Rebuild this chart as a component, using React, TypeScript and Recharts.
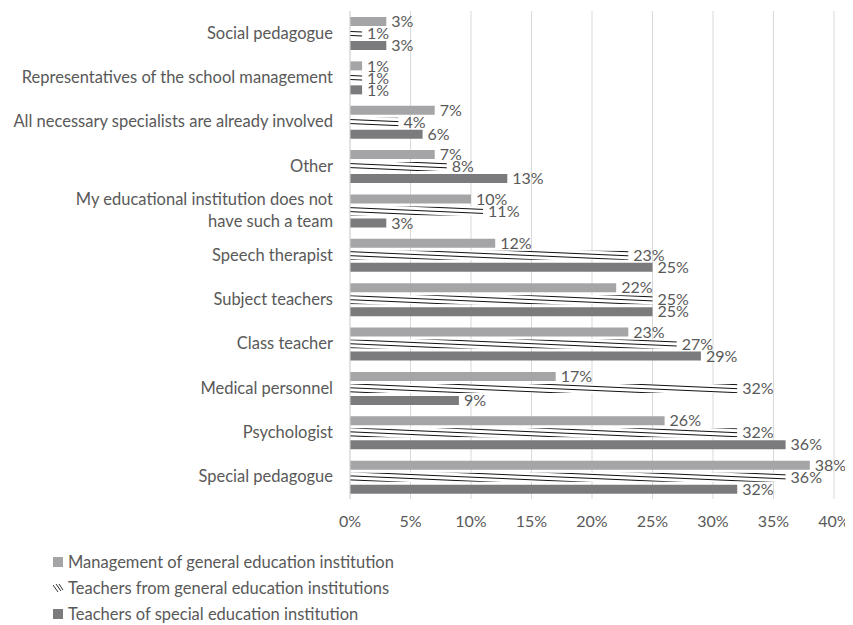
import React from 'react';
import {
	Bar,
	BarChart,
	CartesianGrid,
	LabelList,
	Legend,
	XAxis,
	YAxis
} from 'recharts';

const categories = [
	'Social pedagogue',
	'Representatives of the school management',
	'All necessary specialists are already involved',
	'Other',
	'My educational institution does not\nhave such a team',
	'Speech therapist',
	'Subject teachers',
	'Class teacher',
	'Medical personnel',
	'Psychologist',
	'Special pedagogue'
];

const management = [3, 1, 7, 7, 10, 12, 22, 23, 17, 26, 38];
const teachersGeneral = [1, 1, 4, 8, 11, 23, 25, 27, 32, 32, 36];
const teachersSpecial = [3, 1, 6, 13, 3, 25, 25, 29, 9, 36, 32];

const xTicks = [0, 5, 10, 15, 20, 25, 30, 35, 40];

const seriesNames = [
	'Management of general education institution',
	'Teachers from general education institutions',
	'Teachers of special education institution'
];

const data = categories.map((name, i) => ({
	name,
	management: management[i],
	teachersGeneral: teachersGeneral[i],
	teachersSpecial: teachersSpecial[i]
}));

const FONT = 'Lato, "Open Sans", sans-serif';
const TEXT = '#595959';

const CategoryTick = ({ x, y, payload }: any) => {
	const lines = String(payload.value).split('\n');
	const lh = 22;
	return (
		<text x={x} y={y} textAnchor="end" fill={TEXT} fontSize={16.5} fontFamily={FONT}>
			{lines.map((l, i) => (
				<tspan key={i} x={x} dy={i === 0 ? -((lines.length - 1) * lh) / 2 + 5.5 : lh}>
					{l}
				</tspan>
			))}
		</text>
	);
};

const LegendContent = () => (
	<div style={{ height: 86, paddingTop: 10, paddingLeft: 45, fontFamily: FONT, fontSize: 16.5, color: TEXT, boxSizing: 'border-box' }}>
		{seriesNames.map((n, i) => (
			<div key={n} style={{ height: 26, display: 'flex', alignItems: 'center' }}>
				<svg width={15} height={10} style={{ marginRight: 0 }}>
					{i === 0 && <rect x={0} y={0} width={10} height={10} fill="#a5a5a7" />}
					{i === 1 && (
						<g stroke="#333" strokeWidth={1}>
							<line x1={0} y1={2} x2={5} y2={9} />
							<line x1={3} y1={1} x2={8} y2={8} />
							<line x1={6} y1={1} x2={10} y2={7} />
						</g>
					)}
					{i === 2 && <rect x={0} y={0} width={10} height={10} fill="#7b7b7d" />}
				</svg>
				<span>{n}</span>
			</div>
		))}
	</div>
);

const labelStyle = { fill: TEXT, fontSize: 16, fontFamily: FONT };

export default function App() {
	return (
		<BarChart
			width={845}
			height={617}
			data={data}
			layout="vertical"
			barSize={9}
			barGap={3}
			margin={{ top: 3, right: 19, left: 0, bottom: 0 }}
		>
			<defs>
				<pattern id="hatch" patternUnits="userSpaceOnUse" width={40} height={4} patternTransform="rotate(2.5)">
					<rect x={0} y={0} width={40} height={4} fill="#ffffff" />
					<rect x={0} y={0} width={40} height={1} fill="#111111" />
				</pattern>
			</defs>
			<CartesianGrid horizontal={false} stroke="#d9d9d9" />
			<XAxis
				type="number"
				domain={[0, 40]}
				ticks={xTicks}
				tickFormatter={(v) => `${v}%`}
				axisLine={false}
				tickLine={false}
				tickSize={0}
				tickMargin={17}
				height={40}
				tick={{ fill: TEXT, fontSize: 16, fontFamily: FONT }}
				interval={0}
			/>
			<YAxis
				type="category"
				dataKey="name"
				width={342}
				axisLine={{ stroke: '#d9d9d9' }}
				tickLine={false}
				tickSize={0}
				tickMargin={17}
				tick={<CategoryTick />}
				interval={0}
			/>
			<Legend verticalAlign="bottom" align="left" content={<LegendContent />} height={86} />
			<Bar dataKey="management" name={seriesNames[0]} fill="#a5a5a7" isAnimationActive={false}>
				<LabelList dataKey="management" position="right" formatter={(v: any) => `${v}%`} style={labelStyle} />
			</Bar>
			<Bar dataKey="teachersGeneral" name={seriesNames[1]} fill="url(#hatch)" isAnimationActive={false}>
				<LabelList dataKey="teachersGeneral" position="right" formatter={(v: any) => `${v}%`} style={labelStyle} />
			</Bar>
			<Bar dataKey="teachersSpecial" name={seriesNames[2]} fill="#7b7b7d" isAnimationActive={false}>
				<LabelList dataKey="teachersSpecial" position="right" formatter={(v: any) => `${v}%`} style={labelStyle} />
			</Bar>
		</BarChart>
	);
}
